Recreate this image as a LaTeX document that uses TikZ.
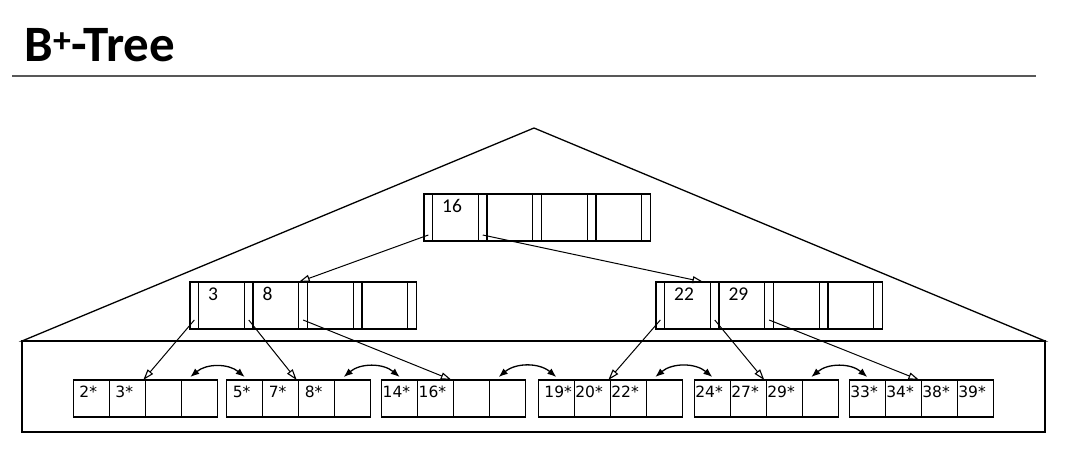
\documentclass[tikz,border=0pt]{standalone}
\usepackage{fontspec}
\setmainfont{Carlito}
\newfontfamily\leaffont{DejaVu Sans}
\usetikzlibrary{arrows.meta, positioning, calc}
\definecolor{rulegray}{RGB}{88, 88, 88}

\tikzset{
  slot/.style={draw, inner sep=0pt, outer sep=0pt, minimum width=8.7pt, minimum height=47pt},
  keybox/.style={draw, outer sep=0pt, inner xsep=9.5pt, inner ysep=0pt, text width=26.7pt, align=left,
    text height=18pt, text depth=29pt, font=\fontsize{19.5}{19.5}\selectfont},
  leafcell/.style={draw, outer sep=0pt, inner xsep=1pt, inner ysep=0pt, text width=34pt, align=left,
    text height=17pt, text depth=20pt, anchor=north west, font=\leaffont\fontsize{15.5}{15.5}\selectfont},
  treeptr/.style={-{Triangle[open, length=11pt, width=7pt, line width=1.1pt]}, line width=1pt},
  sibling/.style={{Latex[length=9pt, width=7pt]}-{Latex[length=9pt, width=7pt]}, bend left=40}
}

\begin{document}
\begin{tikzpicture}[x=1pt, y=-1pt, line width=1.3pt]
  \useasboundingbox (0,0) rectangle (1070,452);

  % title and rule
  \node[anchor=base west, inner sep=0pt, font=\bfseries\fontsize{51}{51}\selectfont] (title) at (24,62) {B\textsuperscript{+}-Tree};
  \draw[rulegray, line width=2pt] (12,76) -- (1036,76);

  % outline: index part and leaf part
  \draw (534,128) -- (22,341) -- (1045,341) -- cycle;
  \draw (22,341) rectangle (1045,432);

  % index nodes
  \foreach \n/\x/\y/\ka/\kb in {root/424/194/16/{}, midl/190/282/3/8, midr/656/282/22/29} {
    \node[slot, anchor=north west] (\n-p0) at (\x,\y) {};
    \node[keybox, right=0pt of \n-p0] (\n-k1) {\ka};
    \node[slot, right=0pt of \n-k1] (\n-p1) {};
    \node[keybox, right=0pt of \n-p1] (\n-k2) {\kb};
    \node[slot, right=0pt of \n-k2] (\n-p2) {};
    \node[keybox, right=0pt of \n-p2] (\n-k3) {};
    \node[slot, right=0pt of \n-k3] (\n-p3) {};
    \node[keybox, right=0pt of \n-p3] (\n-k4) {};
    \node[slot, right=0pt of \n-k4] (\n-p4) {};
  }

  % leaf pages
  \foreach \lf/\x/\a/\b/\c/\d in {1/73.3/\ 2*/\ 3*/{}/{}, 2/226.7/\ 5*/\ 7*/\ 8*/{}, 3/381.7/14*/16*/{}/{},
      4/538.3/\ 19*/20*/22*/{}, 5/694.3/24*/27*/29*/{}, 6/849.3/33*/34*/38*/39*} {
    \node[leafcell] (l\lf-1) at (\x,380) {\a};
    \node[leafcell, right=0pt of l\lf-1] (l\lf-2) {\b};
    \node[leafcell, right=0pt of l\lf-2] (l\lf-3) {\c};
    \node[leafcell, right=0pt of l\lf-3] (l\lf-4) {\d};
  }

  % pointers
  \draw[treeptr] ($(root-p0.south)+(0,-6)$) -- (midl-k2.north east);
  \draw[treeptr] ($(root-p1.south)+(0,-6)$) -- ($(midr-k1.north east)+(-7,0)$);
  \foreach \n/\p/\lf in {midl/0/1, midl/1/2, midl/2/3, midr/0/4, midr/1/5, midr/2/6}
    \draw[treeptr] ($(\n-p\p.south)+(0,-9)$) -- ($(l\lf-3.north west)+(-2,0)$);

  % sibling links
  \foreach \i/\j in {1/2, 2/3, 3/4, 4/5, 5/6}
    \draw[sibling] ($(l\i-4.north)+(-9,-3)$) to ($(l\j-1.north)+(0,-3)$);
\end{tikzpicture}
\end{document}
